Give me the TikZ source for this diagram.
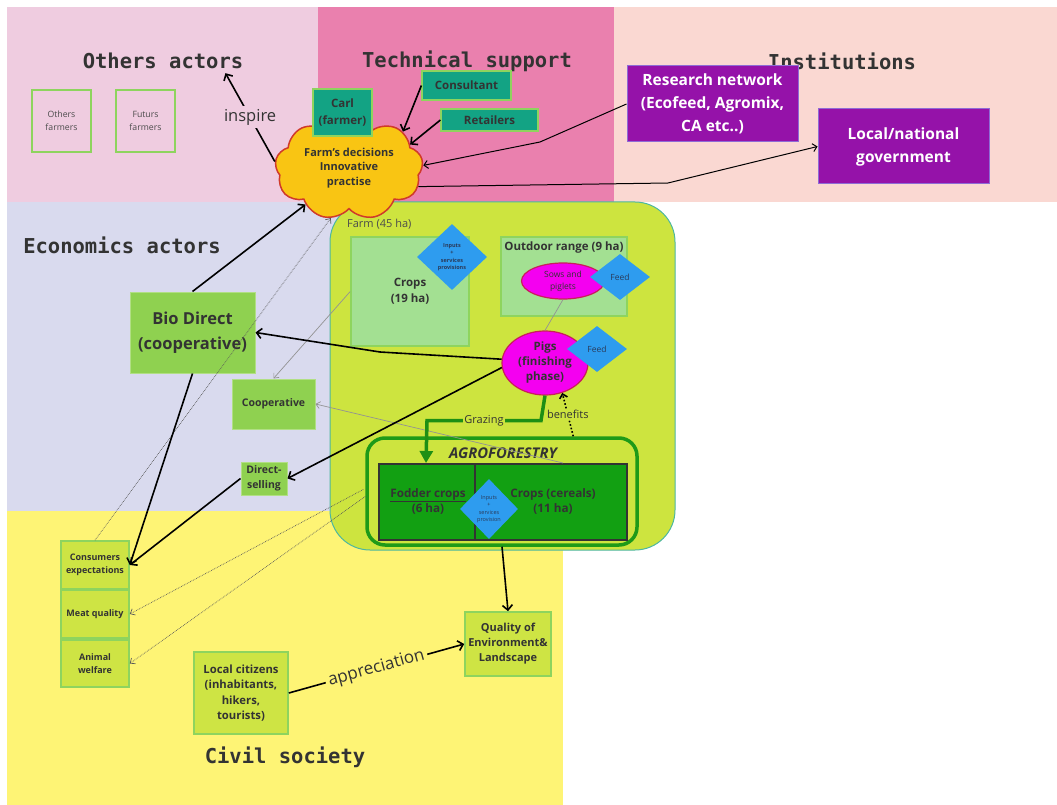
\documentclass[tikz,border=0pt]{standalone}
\usepackage{fontspec}
\setmainfont{Open Sans}
\newfontfamily\mono{DejaVu Sans Mono}
\usetikzlibrary{shapes.geometric,shapes.symbols,arrows.meta,calc}
\definecolor{pinkL}{HTML}{EFCCE0}
\definecolor{pinkM}{HTML}{EA80AE}
\definecolor{salm}{HTML}{FAD8D2}
\definecolor{lav}{HTML}{D9DAEE}
\definecolor{yel}{HTML}{FEF475}
\definecolor{tealC}{HTML}{13A384}
\definecolor{purp}{HTML}{9512A9}
\definecolor{purpB}{HTML}{8E6BD6}
\definecolor{cloudY}{HTML}{F9C513}
\definecolor{cloudR}{HTML}{D03A2A}
\definecolor{farmG}{HTML}{CDE43F}
\definecolor{farmB}{HTML}{4DB7A0}
\definecolor{lightG}{HTML}{A3E092}
\definecolor{boxB}{HTML}{8ED45E}
\definecolor{blueD}{HTML}{2E9CEF}
\definecolor{diaT}{HTML}{2A3A5A}
\definecolor{mag}{HTML}{F400F0}
\definecolor{magB}{HTML}{C8205A}
\definecolor{bioG}{HTML}{8FD150}
\definecolor{agroG}{HTML}{12A012}
\definecolor{agroB}{HTML}{1E9A18}
\definecolor{consG}{HTML}{CEE444}
\definecolor{txt}{HTML}{333333}
\definecolor{grazeG}{HTML}{1E8F14}
\newcommand\fz[2]{\fontsize{#1}{#2}\selectfont}
\begin{document}
\begin{tikzpicture}[x=1pt,y=-1pt,
  title/.style={font=\mono\bfseries\fz{20.5}{24},text=txt,inner sep=0pt},
  gbox/.style={rectangle,draw=boxB,line width=1.6pt,align=center,inner sep=0pt,text=txt},
  tbox/.style={rectangle,fill=tealC,draw=boxB,line width=1.2pt,align=center,inner sep=0pt,text=txt,font=\bfseries\fz{11.5}{16.5}},
  pbox/.style={rectangle,fill=purp,draw=purpB,line width=1pt,align=center,inner sep=0pt,text=white,font=\bfseries\fz{15.5}{23}},
  dia/.style={diamond,fill=blueD,inner sep=0pt,align=center,text=diaT},
  pig/.style={ellipse,fill=mag,draw=magB,line width=1.2pt,align=center,inner sep=0pt,text=txt},
  conn/.style={draw=black,line width=1.6pt,-{Straight Barb[length=5pt,width=10pt]}},
  thinconn/.style={draw=black,line width=1pt,-{Straight Barb[length=4pt,width=8pt]}},
  greyconn/.style={draw=gray!85,line width=0.7pt,-{Straight Barb[length=4pt,width=7pt]}},
  dotconn/.style={draw=black!65,line width=0.7pt,densely dotted,-{Straight Barb[length=4pt,width=7pt]}},
  lbl/.style={inner sep=1pt,text=txt}
]
\useasboundingbox (0,0) rectangle (1057,805);
% backgrounds
\fill[pinkL] (7,7) rectangle (318,202);
\fill[pinkM] (318,7) rectangle (614,202);
\fill[salm] (614,7) rectangle (1057,202);
\fill[lav] (7,202) rectangle (563,511);
\fill[yel] (7,511) rectangle (563,805);
% titles
\node[title] (t1) at (163,61) {Others actors};
\node[title] (t2) at (467,61) {Technical support};
\node[title] (t3) at (842,61) {Institutions};
\node[title] (t4) at (122,245) {Economics actors};
\node[title] (t5) at (285,757) {Civil society};
% others
\node[gbox,minimum width=59,minimum height=62,font=\fz{8.7}{13},text=black!70] (of) at (61.5,121) {Others\\farmers};
\node[gbox,minimum width=59,minimum height=62,font=\fz{8.7}{13},text=black!70] (ff) at (145.5,121) {Futurs\\farmers};
% farm
\node[rectangle,rounded corners=40,fill=farmG,draw=farmB,line width=1pt,minimum width=345,minimum height=348] (farm) at (502.5,376) {};
\node[anchor=west,lbl,font=\fz{11}{13},text=black!70] (farmlbl) at (346,224) {Farm (45 ha)};
\node[gbox,fill=lightG,minimum width=118,minimum height=109,font=\bfseries\fz{11.5}{16}] (crops) at (410,291.5) {Crops\\(19 ha)};
\node[dia,minimum width=70,minimum height=66,font=\bfseries\fz{5.5}{7.5}] (cdia) at (452,257) {Inputs\\+\\services\\provisions};
\node[gbox,fill=lightG,minimum width=126,minimum height=79] (outd) at (564,276.5) {};
\node[lbl,font=\bfseries\fz{11.5}{14}] (outlbl) at (564,248) {Outdoor range (9 ha)};
\node[pig,minimum width=83,minimum height=36,font=\fz{8.5}{12}] (sows) at (563,281) {Sows and\\piglets};
\node[dia,minimum width=60,minimum height=46,font=\fz{8.5}{10}] (feed1) at (620,277) {Feed};
\node[pig,minimum width=86,minimum height=64,font=\bfseries\fz{11.5}{15}] (pigs) at (545,363) {Pigs\\(finishing\\phase)};
\node[dia,minimum width=60,minimum height=46,font=\fz{8.5}{10}] (feed2) at (597,349) {Feed};
% agroforestry
\node[rectangle,rounded corners=18,draw=agroB,line width=3.5pt,minimum width=270,minimum height=107] (agroOut) at (502,491.5) {};
\node[lbl,font=\bfseries\itshape\fz{14.8}{17}] (agrolbl) at (503,453) {AGROFORESTRY};
\node[rectangle,fill=agroG,draw=black!80,line width=2pt,minimum width=248,minimum height=76] (agroIn) at (503,502) {};
\draw[black!80,line width=2pt] ($(agroIn.north west)+(97,0)$) -- ($(agroIn.south west)+(97,0)$);
\node[lbl,align=center,font=\bfseries\fz{11.7}{15}] (fodder) at (428,501) {\underline{Fodder crops}\\(6 ha)};
\node[lbl,align=center,font=\bfseries\fz{11.7}{15}] (cereal) at (553,501) {Crops (cereals)\\(11 ha)};
\node[dia,minimum width=58,minimum height=60,font=\fz{5.5}{7.5}] (adia) at (489,509) {Inputs\\+\\services\\provision};
% economic actors
\node[gbox,draw=bioG!70!white,line width=1pt,fill=bioG,minimum width=125,minimum height=81,font=\bfseries\fz{16.5}{24.5}] (bio) at (192.5,332.5) {Bio Direct\\(cooperative)};
\node[gbox,draw=bioG!70!white,line width=1pt,fill=bioG,minimum width=83,minimum height=50,font=\bfseries\fz{10.5}{13}] (coop) at (273.5,404) {Cooperative};
\node[gbox,draw=bioG!70!white,line width=1pt,fill=bioG,minimum width=46,minimum height=33,font=\bfseries\fz{10.5}{14.5}] (direct) at (264,478.5) {Direct-\\selling};
% civil society
\node[gbox,fill=consG,minimum width=68,minimum height=48,font=\bfseries\fz{9}{12.5}] (cons) at (95,565) {Consumers\\expectations};
\node[gbox,fill=consG,minimum width=68,minimum height=48,font=\bfseries\fz{9}{12.5}] (meat) at (95,614) {Meat quality};
\node[gbox,fill=consG,minimum width=68,minimum height=47,font=\bfseries\fz{9}{12.5}] (animal) at (95,663.5) {Animal\\welfare};
\node[gbox,fill=consG,minimum width=94,minimum height=82,font=\bfseries\fz{11.3}{15.5}] (cit) at (241,693) {Local citizens\\(inhabitants,\\hikers,\\tourists)};
\node[gbox,fill=consG,minimum width=86,minimum height=64,font=\bfseries\fz{11}{15}] (qual) at (508,644) {Quality of\\Environment\&\\Landscape};
% cloud and technical support
\node[cloud,cloud puffs=9,cloud puff arc=120,cloud ignores aspect,minimum width=148,minimum height=104,fill=cloudY,draw=cloudR,line width=1.5pt,inner sep=0pt,align=center,text=txt,font=\bfseries\fz{11}{14.5}] (cloud) at (349,168) {Farm's decisions\\Innovative\\practise};
\node[tbox,minimum width=59,minimum height=47] (carl) at (342.5,112.5) {Carl\\(farmer)};
\node[tbox,minimum width=89,minimum height=29] (consult) at (466.5,85.5) {Consultant};
\node[tbox,minimum width=97,minimum height=22] (retail) at (489.5,120) {Retailers};
% institutions
\node[pbox,minimum width=171,minimum height=76] (res) at (712.5,104) {Research network\\(Ecofeed, Agromix,\\CA etc..)};
\node[pbox,minimum width=171,minimum height=75] (gov) at (903.5,146.5) {Local/national\\government};
% connectors
\draw[conn] (cloud.175) -- node[lbl,fill=pinkL,font=\fz{16.5}{18},inner sep=3pt] {inspire} ($(t1.south east)+(-18,4)$);
\draw[conn] (consult.west) -- (cloud.34);
\draw[conn] (retail.west) -- (cloud.21);
\draw[thinconn] (res.west) -- (540,142) -- (cloud.2);
\draw[thinconn] (cloud.-15) -- (668,183) -- (gov.west);
\draw[conn] (bio.north) -- (cloud.220);
\draw[dotconn] (cons.north) -- (cloud.250);
\draw[greyconn] (crops.west) -- (coop.north);
\draw[greyconn] ($(agroIn.north west)!0.74!(agroIn.north east)$) -- (coop.east);
\draw[draw=gray!85,line width=0.7pt] (sows.south) -- (pigs.north);
\draw[conn] (pigs.175) -- (380,352) -- (bio.east);
\draw[conn] (pigs.186) -- (direct.east);
\draw[conn] (bio.south) -- (cons.east);
\draw[conn] (direct.west) -- (cons.east);
\draw[draw=grazeG,line width=3.5pt,-{Triangle[length=12pt,width=13pt]}] (pigs.south) -- ++(-4,25) -- node[lbl,fill=farmG,font=\fz{11}{13}] {Grazing} ++(-114,0) -- ($(agroIn.north west)+(48,0)$);
\draw[draw=black,line width=1.6pt,dotted,-{Straight Barb[length=4pt,width=8pt]}] ($(agroOut.north west)+(208,0)$) -- node[lbl,fill=farmG,font=\fz{11}{13}] {benefits} (pigs.-60);
\draw[dotconn] ($(agroOut.west)+(-2,-2)$) -- (meat.east);
\draw[dotconn] ($(agroOut.west)+(0,5)$) -- (animal.east);
\draw[conn] (agroOut.south) -- (qual.north);
\draw[conn] (cit.east) -- node[lbl,fill=yel,sloped,font=\fz{17}{19},inner sep=3pt] {appreciation} (qual.west);
\end{tikzpicture}
\end{document}
